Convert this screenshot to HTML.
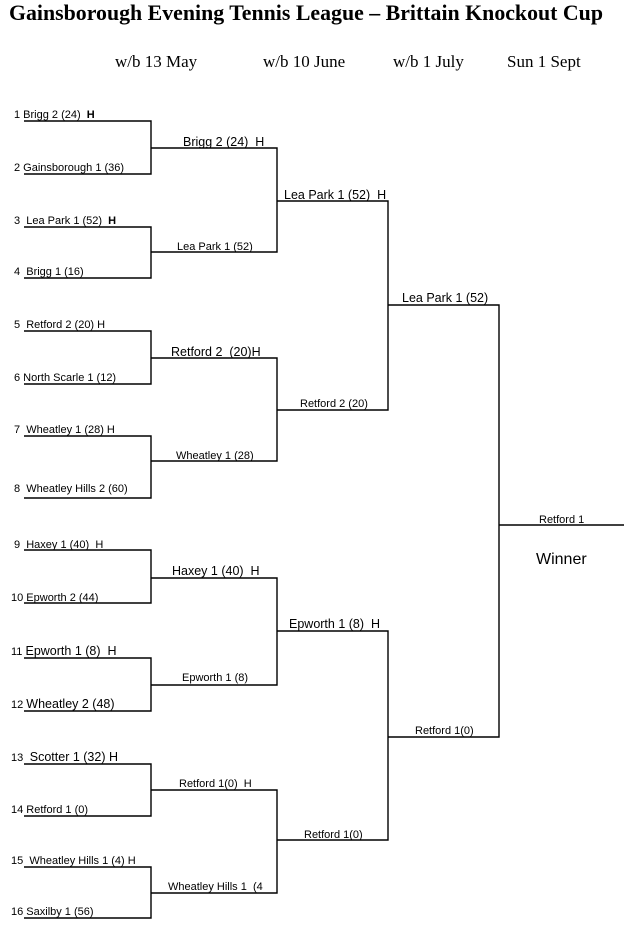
<!DOCTYPE html>
<html><head><meta charset="utf-8"><style>
html,body{margin:0;padding:0;background:#fff;}
svg{display:block;}
text{font-family:"Liberation Sans",Arial,sans-serif;fill:#000;white-space:pre;}
.s{font-size:11px;}
.m{font-size:12.5px;}
.t{font-family:"Liberation Serif",serif;}
</style></head><body>
<svg width="640" height="927" viewBox="0 0 640 927" xmlns="http://www.w3.org/2000/svg" xml:space="preserve">
<text class="t" x="9" y="20" font-size="22" font-weight="bold" textLength="594" lengthAdjust="spacingAndGlyphs">Gainsborough Evening Tennis League – Brittain Knockout Cup</text>
<text class="t" x="115" y="67" font-size="17">w/b 13 May</text>
<text class="t" x="263" y="67" font-size="17">w/b 10 June</text>
<text class="t" x="393" y="67" font-size="17">w/b 1 July</text>
<text class="t" x="507" y="67" font-size="17">Sun 1 Sept</text>
<g stroke="#000" stroke-width="1.4" fill="none">
<path d="M24 121H151V174H24"/>
<path d="M24 227H151V278H24"/>
<path d="M24 331H151V384H24"/>
<path d="M24 436H151V498H24"/>
<path d="M24 550H151V603H24"/>
<path d="M24 658H151V711H24"/>
<path d="M24 764H151V816H24"/>
<path d="M24 867H151V918H24"/>
<path d="M151 148H277V252H151"/>
<path d="M151 358H277V461H151"/>
<path d="M151 578H277V685H151"/>
<path d="M151 790H277V893H151"/>
<path d="M277 201H388V410H277"/>
<path d="M277 631H388V840H277"/>
<path d="M388 305H499V737H388"/>
<path d="M499 525H624"/>
</g>
<text class="s" x="14" y="118">1 Brigg 2 (24)  <tspan font-weight="bold">H</tspan></text>
<text class="s" x="14" y="171">2 Gainsborough 1 (36)</text>
<text class="s" x="14" y="224">3  Lea Park 1 (52)  <tspan font-weight="bold">H</tspan></text>
<text class="s" x="14" y="275">4  Brigg 1 (16)</text>
<text class="s" x="14" y="328">5  Retford 2 (20) H</text>
<text class="s" x="14" y="381">6 North Scarle 1 (12)</text>
<text class="s" x="14" y="433">7  Wheatley 1 (28) H</text>
<text class="s" x="14" y="492">8  Wheatley Hills 2 (60)</text>
<text class="s" x="14" y="548">9  Haxey 1 (40)  H</text>
<text class="s" x="11" y="601">10 Epworth 2 (44)</text>
<text class="s" x="11" y="655">11 <tspan font-size="12.5">Epworth 1 (8)  H</tspan></text>
<text class="s" x="11" y="708">12 <tspan font-size="12.5">Wheatley 2 (48)</tspan></text>
<text class="s" x="11" y="761">13 <tspan font-size="12.5"> Scotter 1 (32) H</tspan></text>
<text class="s" x="11" y="813">14 Retford 1 (0)</text>
<text class="s" x="11" y="864">15  Wheatley Hills 1 (4) H</text>
<text class="s" x="11" y="915">16 Saxilby 1 (56)</text>
<text class="m" x="183" y="146">Brigg 2 (24)  H</text>
<text class="s" x="177" y="250">Lea Park 1 (52)</text>
<text class="m" x="171" y="356">Retford 2  (20)H</text>
<text class="s" x="176" y="459">Wheatley 1 (28)</text>
<text class="m" x="172" y="575">Haxey 1 (40)  H</text>
<text class="s" x="182" y="681">Epworth 1 (8)</text>
<text class="s" x="179" y="787">Retford 1(0)  H</text>
<text class="s" x="168" y="890">Wheatley Hills 1  (4</text>
<text class="m" x="284" y="199">Lea Park 1 (52)  H</text>
<text class="s" x="300" y="407">Retford 2 (20)</text>
<text class="m" x="289" y="628">Epworth 1 (8)  H</text>
<text class="s" x="304" y="838">Retford 1(0)</text>
<text class="m" x="402" y="302">Lea Park 1 (52)</text>
<text class="s" x="415" y="734">Retford 1(0)</text>
<text class="s" x="539" y="523">Retford 1</text>
<text x="536" y="564" font-size="16">Winner</text>
</svg>
</body></html>
